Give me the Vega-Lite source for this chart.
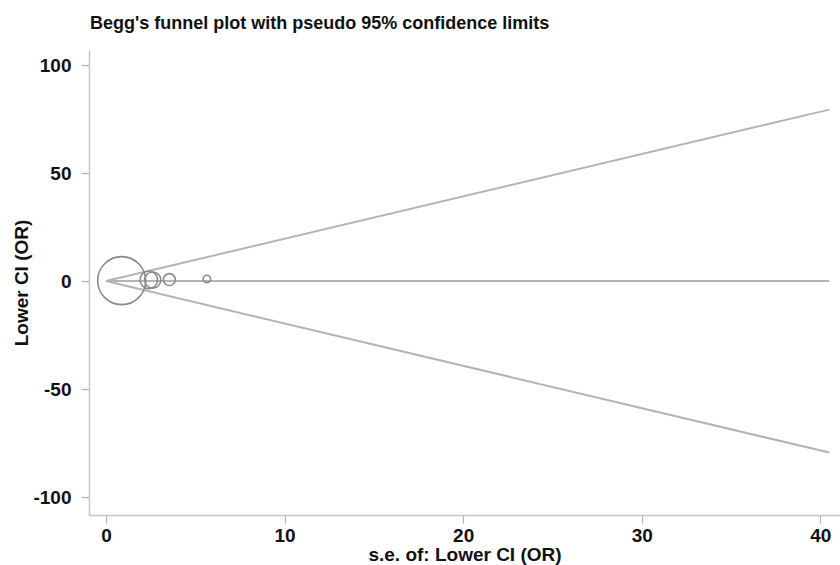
{
  "$schema": "https://vega.github.io/schema/vega-lite/v6.json",
  "autosize": {"type": "none"},
  "width": 751,
  "height": 465,
  "padding": {"left": 89, "top": 50, "right": 0, "bottom": 50},
  "background": "white",
  "title": {
    "text": "Begg's funnel plot with pseudo 95% confidence limits",
    "anchor": "start",
    "frame": "group",
    "font": "Liberation Sans",
    "fontSize": 18,
    "fontWeight": "bold",
    "color": "#111111",
    "offset": 17,
    "dx": 1
  },
  "config": {
    "view": {"stroke": null},
    "axis": {
      "grid": false,
      "domainColor": "#c4c4c4",
      "domainWidth": 1.5,
      "tickColor": "#b0b0b0",
      "tickWidth": 1.2,
      "tickSize": 8,
      "labelFont": "Liberation Sans",
      "labelFontSize": 19,
      "labelFontWeight": "bold",
      "labelColor": "#111111",
      "labelExpr": "'' + datum.value",
      "titleFont": "Liberation Sans",
      "titleFontSize": 19,
      "titleFontWeight": "bold",
      "titleColor": "#111111"
    }
  },
  "datasets": {
    "limits": [
      {"se": 0, "value": 0, "line": "upper"},
      {"se": 40.5, "value": 79.4, "line": "upper"},
      {"se": 0, "value": 0, "line": "lower"},
      {"se": 40.5, "value": -79.4, "line": "lower"},
      {"se": 0, "value": 0, "line": "pooled"},
      {"se": 40.5, "value": 0, "line": "pooled"}
    ],
    "studies": [
      {"se": 0.88, "lowerci": 0.2, "weight": 1.291},
      {"se": 2.4, "lowerci": 0.6, "weight": 0.174},
      {"se": 2.62, "lowerci": 0.5, "weight": 0.146},
      {"se": 3.55, "lowerci": 0.7, "weight": 0.079},
      {"se": 5.65, "lowerci": 1.0, "weight": 0.0313}
    ]
  },
  "layer": [
    {
      "data": {"name": "limits"},
      "mark": {"type": "line", "color": "#b4b4b4", "strokeWidth": 2, "clip": true},
      "encoding": {
        "x": {
          "field": "se", "type": "quantitative",
          "scale": {"domain": [-0.95, 41.1], "nice": false, "zero": false},
          "axis": {"values": [0, 10, 20, 30, 40], "title": "s.e. of: Lower CI (OR)", "titlePadding": 0, "labelPadding": 3}
        },
        "y": {
          "field": "value", "type": "quantitative",
          "scale": {"domain": [-108.3, 107], "nice": false, "zero": false},
          "axis": {"values": [-100, -50, 0, 50, 100], "title": "Lower CI (OR)", "titlePadding": 1, "labelPadding": 10}
        },
        "detail": {"field": "line"}
      }
    },
    {
      "data": {"name": "studies"},
      "mark": {"type": "point", "shape": "circle", "filled": false, "color": "#8a8a8a", "strokeWidth": 1.6, "opacity": 1},
      "encoding": {
        "x": {"field": "se", "type": "quantitative"},
        "y": {"field": "lowerci", "type": "quantitative"},
        "size": {
          "field": "weight", "type": "quantitative",
          "scale": {"type": "linear", "domain": [0, 1.291], "range": [0, 2304], "zero": true},
          "legend": null
        }
      }
    }
  ]
}
